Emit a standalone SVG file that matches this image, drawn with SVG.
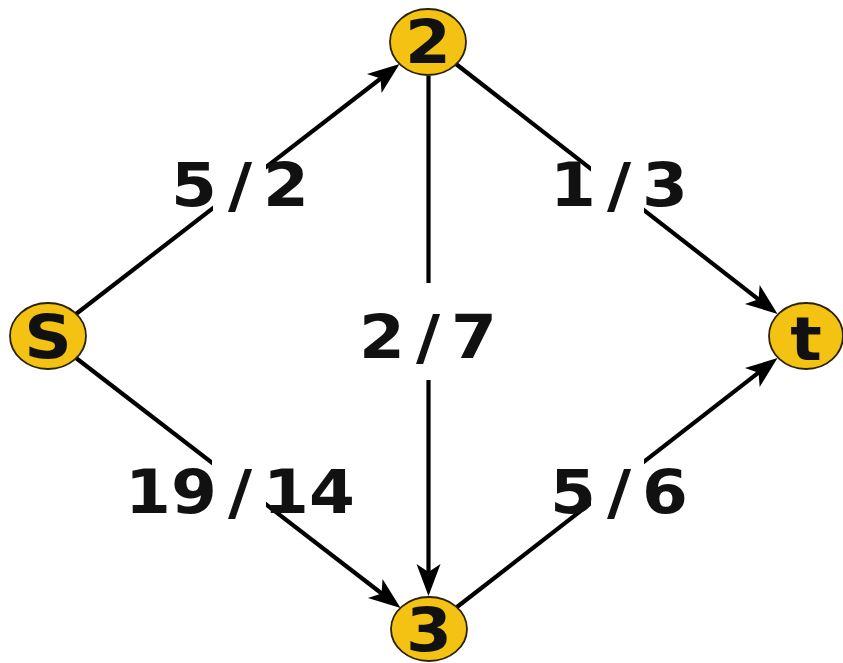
<svg xmlns="http://www.w3.org/2000/svg" width="843" height="663" viewBox="0 0 843 663">
<style>
.edge{stroke:#000;stroke-width:4.2;fill:none;marker-end:url(#arr)}
.node ellipse{fill:#F4C213;stroke:#2a2200;stroke-width:1.8}
text{font-family:"DejaVu Sans","Verdana",sans-serif;font-weight:bold;font-size:60px;fill:#111;text-anchor:middle}
.bg{fill:#fff}
</style>
<defs>
<marker id="arr" markerUnits="userSpaceOnUse" viewBox="-34 -14 36 28" refX="-14" refY="0" markerWidth="36" markerHeight="28" orient="auto">
<path d="M0,0 L-32,-12 L-24,0 L-32,12 Z" fill="#000"/>
</marker>
</defs>
<rect width="843" height="663" fill="#fff"/>
<g id="connectors">
<line class="edge" x1="76" y1="314" x2="388.5" y2="72.5"/>
<line class="edge" x1="76" y1="358" x2="389.5" y2="599.5"/>
<line class="edge" x1="456" y1="64" x2="766.5" y2="305.5"/>
<line class="edge" x1="457" y1="607" x2="766.5" y2="366.5"/>
<line class="edge" x1="428.5" y1="76" x2="428.5" y2="582"/>
</g>
<g id="labels">
<g id="label-s2"><rect class="bg" x="213" y="129" width="53" height="97"/><text transform="translate(240,206) scale(1.1,1)">5<tspan dx="10">/</tspan><tspan dx="10">2</tspan></text></g>
<g id="label-2t"><rect class="bg" x="591" y="129" width="53" height="97"/><text transform="translate(619,206) scale(1.1,1)">1<tspan dx="10">/</tspan><tspan dx="10">3</tspan></text></g>
<g id="label-23"><rect class="bg" x="402" y="283" width="53" height="97"/><text transform="translate(428,358) scale(1.1,1)">2<tspan dx="10">/</tspan><tspan dx="10">7</tspan></text></g>
<g id="label-s3"><rect class="bg" x="212" y="437" width="54" height="97"/><text transform="translate(240,513) scale(1.1,1)">19<tspan dx="10">/</tspan><tspan dx="10">14</tspan></text></g>
<g id="label-3t"><rect class="bg" x="591" y="437" width="53" height="97"/><text transform="translate(619,513) scale(1.1,1)">5<tspan dx="10">/</tspan><tspan dx="10">6</tspan></text></g>
</g>
<g id="node-s" class="node"><ellipse cx="48" cy="336" rx="38" ry="33"/><text transform="translate(48,358) scale(1.1,1)">S</text></g>
<g id="node-2" class="node"><ellipse cx="428" cy="42" rx="38" ry="33"/><text transform="translate(428,63) scale(1.1,1)">2</text></g>
<g id="node-3" class="node"><ellipse cx="429" cy="629" rx="38" ry="32"/><text transform="translate(429,651) scale(1.1,1)">3</text></g>
<g id="node-t" class="node"><ellipse cx="806" cy="336" rx="37" ry="33"/><text transform="translate(806,360) scale(1.1,1)">t</text></g>
</svg>
